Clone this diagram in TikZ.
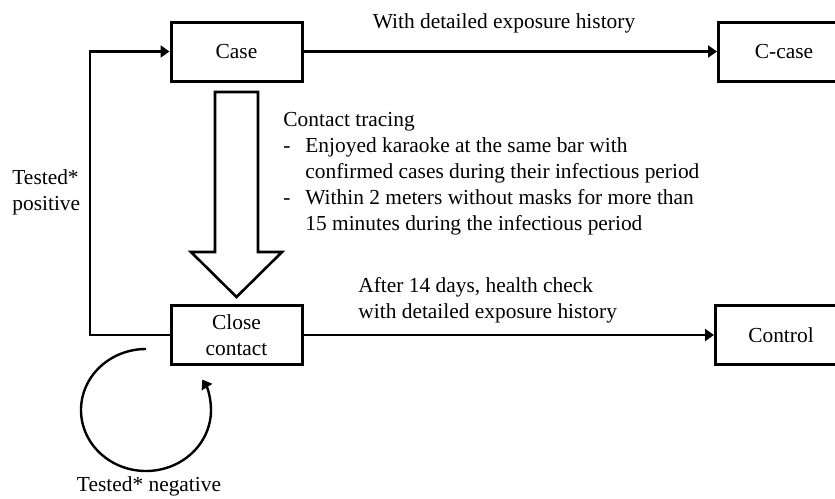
\documentclass[tikz,border=0pt]{standalone}
\usepackage{fontspec}
\setmainfont{Liberation Serif}
\usetikzlibrary{arrows.meta}

\tikzset{
  box/.style={draw, line width=1.5pt, minimum width=65.5pt, minimum height=29.5pt, align=center},
  conn/.style={line width=1.2pt, -{Triangle[length=4.5pt,width=6pt]}},
  txt/.style={inner sep=0pt, align=left},
}

\begin{document}
\begin{tikzpicture}[x=0.5pt, y=-0.5pt, font=\fontsize{10.7}{13}\selectfont]
        \useasboundingbox (0,0) rectangle (835,498);

        % boxes
        \node[box] (case) at (236.5,51.5) {Case};
        \node[box, anchor=west] (ccase) at (717,51.5) {C-case};
        \node[box] (close) at (236.5,335) {Close\\contact};
        \node[box, anchor=west] (control) at (714,335) {Control};

        % top and bottom arrows
        \draw[conn] (case) -- (ccase);
        \node[txt] (withlbl) at (504,23) {With detailed exposure history};

        \draw[conn] (close) -- (control);
        \node[txt, anchor=west] (afterlbl) at (358,300) {After 14 days, health check\\with detailed exposure history};

        % tested positive loop
        \coordinate (bend) at (90,335);
        \draw[conn] (close.west) -- (bend) |- (case.west);
        \node[txt, anchor=west] (poslbl) at (12,192) {Tested*\\positive};

        % contact tracing block arrow
        \draw[line width=1.3pt, line join=miter] (215,92) -- (258,92) -- (258,252) -- (282,252)
              -- (236.5,297) -- (191,252) -- (215,252) -- cycle;
        \node[txt, anchor=west] (tracing) at (283,174) {Contact tracing\\
              \makebox[11pt][l]{-}Enjoyed karaoke at the same bar with\\
              \makebox[11pt]{}confirmed cases during their infectious period\\
              \makebox[11pt][l]{-}Within 2 meters without masks for more than\\
              \makebox[11pt]{}15 minutes during the infectious period};

        % tested negative loop
        \coordinate (loopstart) at (146,349);
        \draw[conn] (loopstart) arc[start angle=-90, end angle=-390, x radius=65, y radius=61];
        \node[txt] (neglbl) at (149,486) {Tested* negative};
\end{tikzpicture}
\end{document}
